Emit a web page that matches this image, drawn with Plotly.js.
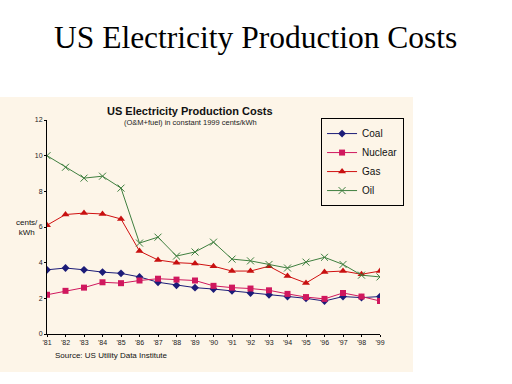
<!DOCTYPE html>
<html>
<head>
<meta charset="utf-8">
<script src="https://cdn.plot.ly/plotly-3.0.1.min.js"></script>
<style>html,body{margin:0;padding:0;background:#fff;}#chart{width:512px;height:384px;}</style>
</head>
<body>
<div id="chart"></div>
<script>
var years = ["'81","'82","'83","'84","'85","'86","'87","'88","'89","'90","'91","'92","'93","'94","'95","'96","'97","'98","'99"];
var coal = [3.6,3.7,3.6,3.47,3.4,3.2,2.9,2.73,2.6,2.52,2.42,2.3,2.2,2.1,2.0,1.85,2.1,2.04,2.1];
var nuclear = [2.2,2.42,2.6,2.9,2.85,3.0,3.1,3.05,3.0,2.7,2.6,2.55,2.45,2.25,2.07,1.97,2.3,2.1,1.85];
var gas = [6.1,6.7,6.78,6.73,6.45,4.65,4.15,4.0,3.95,3.8,3.53,3.53,3.8,3.25,2.86,3.48,3.53,3.35,3.53];
var oil = [10.0,9.35,8.74,8.85,8.18,5.1,5.43,4.37,4.6,5.15,4.2,4.1,3.9,3.7,4.03,4.3,3.9,3.3,3.2];
var yTicks = [0,2,4,6,8,10,12];

var sans = "Liberation Sans, Arial, sans-serif";
var traces = [
  {name:"Coal", x:years, y:coal, type:"scatter", mode:"lines+markers",
   line:{color:"#1c1c78", width:1}, marker:{symbol:"diamond", size:6, color:"#1c1c78"}},
  {name:"Nuclear", x:years, y:nuclear, type:"scatter", mode:"lines+markers",
   line:{color:"#d0185e", width:1}, marker:{symbol:"square", size:6, color:"#d0185e"}},
  {name:"Gas", x:years, y:gas, type:"scatter", mode:"lines+markers",
   line:{color:"#d01010", width:1}, marker:{symbol:"triangle-up", size:7, color:"#c81010"}},
  {name:"Oil", x:years, y:oil, type:"scatter", mode:"lines+markers",
   line:{color:"#3f7f3f", width:1}, marker:{symbol:"x-thin-open", size:7, color:"#3f7f3f", line:{color:"#3f7f3f", width:1}}}
];

var layout = {
  width:512, height:384,
  margin:{l:47, r:132, t:120, b:50},
  paper_bgcolor:"#ffffff",
  plot_bgcolor:"rgba(0,0,0,0)",
  font:{family:sans, size:8, color:"#222"},
  showlegend:true,
  legend:{x:0.823, y:1.009, xanchor:"left", yanchor:"top",
    bgcolor:"rgba(0,0,0,0)", bordercolor:"#000", borderwidth:1,
    font:{family:sans, size:10, color:"#111"}, tracegroupgap:0, itemwidth:30},
  xaxis:{type:"category", range:[0,18], showgrid:false, zeroline:false,
    showline:true, linecolor:"#000", linewidth:1, ticks:"outside", ticklen:2,
    tickcolor:"#000", tickfont:{family:sans, size:7, color:"#222"}, fixedrange:true},
  yaxis:{range:[0,12], tickvals:yTicks, showgrid:false, zeroline:false,
    showline:true, linecolor:"#000", linewidth:1, ticks:"outside", ticklen:2,
    tickcolor:"#000", tickfont:{family:sans, size:7, color:"#222"}, fixedrange:true},
  shapes:[
    {type:"rect", xref:"paper", yref:"paper", x0:-0.1411, x1:1.099, y0:-0.1776, y1:1.1075,
     fillcolor:"#fdf5e8", line:{width:0}, layer:"below"}
  ],
  annotations:[
    {text:"US Electricity Production Costs", xref:"paper", yref:"paper",
     x:(256-47)/333, y:(334-37)/214, xanchor:"center", yanchor:"middle", showarrow:false,
     font:{family:"Liberation Serif, Times New Roman, serif", size:31.5, color:"#000"}},
    {text:"<b>US Electricity Production Costs</b>", xref:"paper", yref:"paper",
     x:(190-47)/333, y:(334-111)/214, xanchor:"center", yanchor:"middle", showarrow:false,
     font:{family:sans, size:11, color:"#111"}},
    {text:"(O&M+fuel) in constant 1999 cents/kWh", xref:"paper", yref:"paper",
     x:(190-47)/333, y:(334-122)/214, xanchor:"center", yanchor:"middle", showarrow:false,
     font:{family:sans, size:7.5, color:"#222"}},
    {text:"cents/<br>kWh", xref:"paper", yref:"paper",
     x:(27-47)/333, y:(334-227)/214, xanchor:"center", yanchor:"middle", showarrow:false,
     font:{family:sans, size:8, color:"#111"}},
    {text:"Source: US Utility Data Institute", xref:"paper", yref:"paper",
     x:(53-47)/333, y:(334-355)/214, xanchor:"left", yanchor:"middle", showarrow:false,
     font:{family:sans, size:8, color:"#111"}}
  ]
};
Plotly.newPlot("chart", traces, layout, {displayModeBar:false, staticPlot:true});
</script>
</body>
</html>
